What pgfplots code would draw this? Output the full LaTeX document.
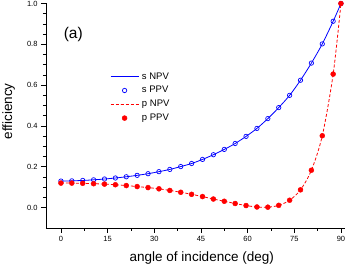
\documentclass[border=0pt]{standalone}
\usepackage{fontspec}
\setmainfont{Liberation Sans}
\usepackage{pgfplots}
\pgfplotsset{compat=1.18}
\pgfplotstableread{
x sppv pppv
0    0.130 0.120
3.5  0.131 0.120
7    0.133 0.119
10.5 0.136 0.117
14   0.140 0.115
17.5 0.145 0.112
21   0.151 0.108
24.5 0.158 0.103
28   0.166 0.098
31.5 0.176 0.092
35   0.187 0.084
38.5 0.201 0.075
42   0.216 0.065
45.5 0.236 0.054
49   0.259 0.042
52.5 0.285 0.031
56   0.314 0.020
59.5 0.349 0.010
63   0.388 0.003
66.5 0.436 0.002
70   0.490 0.011
73.5 0.550 0.036
77   0.624 0.087
80.5 0.708 0.183
84   0.802 0.352
87.5 0.913 0.654
90   1.000 1.000
}\datatab
\begin{document}
\begin{tikzpicture}
\begin{axis}[name=ax, at={(0,0)}, anchor=south west,
  scale only axis, width=299pt, height=224.5pt,
  xmin=-4.8, xmax=91.3, ymin=-0.1, ymax=1.0,
  axis x line*=bottom, axis y line*=left,
  axis line style={line width=0.8pt},
  xtick={0,15,30,45,60,75,90}, minor x tick num=1,
  ytick={0,0.2,0.4,0.6,0.8,1.0}, minor y tick num=3,
  tick align=outside, major tick length=5pt, minor tick length=3pt,
  tick style={line width=0.7pt, black},
  yticklabel style={/pgf/number format/fixed, /pgf/number format/fixed zerofill, /pgf/number format/precision=1},
  /pgf/number format/assume math mode=true,
  tick label style={font=\fontsize{7.5}{8}\selectfont},
  xlabel={angle of incidence (deg)}, ylabel={efficiency},
  label style={font=\fontsize{13.5}{15}\selectfont},
  xlabel style={at={(axis description cs:0.521,0)}, anchor=base, yshift=-33.3pt},
  ylabel style={at={(axis description cs:-0.1137,0.519)}, anchor=base},
  clip=false,
  legend image code/.code={\draw[mark repeat=2,mark phase=2,#1] plot coordinates {(0pt,0pt) (14pt,0pt) (28pt,0pt)};},
  legend style={draw=none, fill=none, at={(0.214,0.694)}, anchor=north west,
    inner sep=0pt, row sep=5.2pt, column sep=3pt,
    font=\fontsize{9.5}{10}\selectfont,
    nodes={inner sep=0pt, text height=6.8pt, text depth=1.8pt}},
  legend cell align=left,
]
\addplot[blue, line width=0.8pt, smooth, no markers] table[x=x, y=sppv] {\datatab};
\addlegendentry{s NPV}
\addplot[blue, only marks, mark=o, mark size=2.2pt, mark options={line width=0.7pt}] table[x=x, y=sppv] {\datatab};
\addlegendentry{s PPV}
\addplot[red, line width=0.8pt, smooth, dash pattern=on 3pt off 2pt, no markers] table[x=x, y=pppv] {\datatab};
\addlegendentry{p NPV}
\addplot[red, only marks, mark=*, mark size=2.5pt] table[x=x, y=pppv] {\datatab};
\addlegendentry{p PPV}
\node[font=\fontsize{15.5}{17}\selectfont] at (axis cs:3.95,0.848) {(a)};
\end{axis}
\pgfresetboundingbox
\path[use as bounding box] (-46pt,-36pt) rectangle (300pt,228pt);
\end{tikzpicture}
\end{document}
